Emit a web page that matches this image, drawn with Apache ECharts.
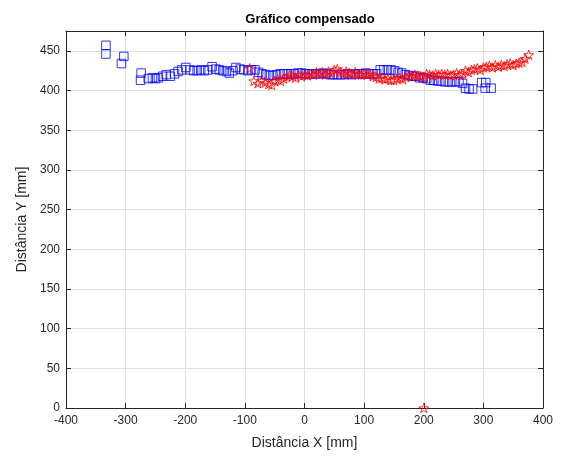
<!DOCTYPE html>
<html>
<head>
<meta charset="utf-8">
<script src="https://cdn.jsdelivr.net/npm/echarts@6/dist/echarts.min.js"></script>
<style>
  html, body { margin: 0; padding: 0; background: #fff; }
  #chart { width: 569px; height: 457px; }
</style>
</head>
<body>
<div id="chart"></div>
<script>
// pontos medidos (x, y) em mm
const bluePoints = [
  [-333, 457], [-333, 446], [-303, 443], [-307, 434], [-274, 422], [-275, 413],
  [-262, 415], [-255, 416], [-250, 415], [-245, 416], [-238, 418], [-232, 420],
  [-225, 418], [-218, 421], [-212, 424], [-206, 426], [-199, 429], [-192, 426],
  [-186, 425], [-180, 425], [-174, 426], [-168, 425], [-162, 426], [-155, 430],
  [-149, 427], [-143, 426], [-137, 425], [-131, 424], [-126, 422], [-120, 425],
  [-115, 429], [-108, 427], [-102, 426], [-95, 425], [-89, 426], [-83, 426],
  [-77, 423], [-71, 421], [-65, 420], [-59, 419], [-53, 419], [-47, 420],
  [-41, 421], [-35, 421], [-29, 421], [-23, 421], [-17, 421], [-11, 422],
  [-5, 422], [1, 421], [7, 421], [13, 421], [19, 421], [25, 421],
  [31, 422], [37, 421], [43, 420], [49, 420], [55, 420], [61, 420],
  [67, 420], [73, 421], [79, 420], [85, 421], [91, 421], [97, 421],
  [103, 422], [109, 421], [115, 421], [121, 421], [127, 426], [133, 426],
  [139, 426], [145, 426], [151, 425], [157, 423], [163, 422], [169, 420],
  [175, 419], [181, 418], [187, 418], [193, 416], [199, 416], [205, 415],
  [211, 413], [217, 413], [223, 412], [229, 412], [235, 411], [241, 411],
  [247, 411], [253, 411], [259, 411], [265, 409], [270, 403], [276, 402],
  [282, 402], [297, 410], [304, 410], [303, 403], [313, 403]
]

const redPoints = [
  [-92, 428], [-85, 412], [-78, 409], [-72, 412], [-66, 410], [-60, 408],
  [-55, 407], [-50, 412], [-45, 414], [-40, 412], [-35, 415], [-30, 417],
  [-25, 419], [-20, 418], [-15, 416], [-10, 420], [-5, 418], [0, 420],
  [5, 419], [10, 421], [15, 420], [20, 423], [25, 421], [30, 423],
  [35, 420], [40, 424], [45, 422], [50, 426], [55, 427], [60, 423],
  [65, 421], [70, 424], [75, 422], [80, 421], [85, 423], [90, 420],
  [95, 420], [100, 421], [105, 420], [110, 421], [115, 418], [120, 417],
  [125, 415], [130, 416], [135, 414], [140, 415], [145, 413], [150, 413],
  [155, 415], [160, 416], [165, 414], [170, 417], [175, 419], [180, 418],
  [185, 420], [190, 419], [195, 418], [200, 417], [205, 421], [210, 420],
  [215, 419], [220, 421], [225, 420], [230, 421], [235, 420], [240, 421],
  [245, 419], [250, 420], [255, 422], [260, 420], [265, 421], [270, 425],
  [275, 423], [280, 426], [285, 427], [290, 428], [295, 426], [300, 429],
  [305, 430], [310, 431], [315, 429], [320, 432], [325, 430], [330, 432],
  [335, 431], [340, 433], [345, 434], [350, 432], [355, 434], [360, 435],
  [365, 436], [370, 440], [376, 445], [200, 0]
]

const xTicks = [-400, 400, 100]  // min, max, intervalo
const yTicks = [0, 475, 50]

const star = 'path://M100,0 L122.45,69.1 L195.1,69.1 L136.3,111.8 L158.8,180.9 L100,138.2 L41.2,180.9 L63.7,111.8 L4.9,69.1 L77.55,69.1 Z'
const axisColor = '#262626'
const font = 'Liberation Sans, Arial, Helvetica, sans-serif'

const chart = echarts.init(document.getElementById('chart'))
chart.setOption({
  animation: false,
  backgroundColor: '#fff',
  textStyle: { fontFamily: font },
  title: {
    text: 'Gráfico compensado',
    left: 305,
    top: 8,
    textAlign: 'center',
    textStyle: { fontSize: 13, fontWeight: 'bold', color: '#000', fontFamily: font }
  },
  grid: { left: 66, right: 26, top: 31, bottom: 49 },
  xAxis: [
    {
      type: 'value',
      min: xTicks[0], max: xTicks[1], interval: xTicks[2],
      name: 'Distância X [mm]',
      nameLocation: 'middle',
      nameGap: 28,
      nameTextStyle: { fontSize: 14, color: axisColor },
      axisLine: { onZero: false, lineStyle: { color: axisColor } },
      axisTick: { inside: true, length: 5, lineStyle: { color: axisColor } },
      axisLabel: { fontSize: 12, color: axisColor, margin: 7 },
      splitLine: { show: true, lineStyle: { color: '#dfdfdf' } }
    },
    {
      type: 'value', position: 'top',
      min: xTicks[0], max: xTicks[1], interval: xTicks[2],
      axisLine: { onZero: false, lineStyle: { color: axisColor } },
      axisTick: { inside: true, length: 5, lineStyle: { color: axisColor } },
      axisLabel: { show: false },
      splitLine: { show: false }
    }
  ],
  yAxis: [
    {
      type: 'value',
      min: yTicks[0], max: yTicks[1], interval: yTicks[2],
      name: 'Distância Y [mm]',
      nameLocation: 'middle',
      nameGap: 36,
      nameTextStyle: { fontSize: 14, color: axisColor },
      axisLine: { show: true, onZero: false, lineStyle: { color: axisColor } },
      axisTick: { show: true, inside: true, length: 5, lineStyle: { color: axisColor } },
      axisLabel: {
        fontSize: 12, color: axisColor, margin: 6,
        formatter: v => (v % 50 === 0 ? String(v) : '')
      },
      splitLine: { show: true, lineStyle: { color: '#dfdfdf' } }
    },
    {
      type: 'value', position: 'right',
      min: yTicks[0], max: yTicks[1], interval: yTicks[2],
      axisLine: { show: true, onZero: false, lineStyle: { color: axisColor } },
      axisTick: { show: true, inside: true, length: 5, lineStyle: { color: axisColor } },
      axisLabel: { show: false },
      splitLine: { show: false }
    }
  ],
  series: [
    {
      type: 'scatter',
      data: bluePoints,
      symbol: 'rect',
      symbolSize: 8.5,
      itemStyle: { color: 'rgba(0,0,0,0)', borderColor: '#0000ff', borderWidth: 1 },
      clip: false
    },
    {
      type: 'scatter',
      data: redPoints,
      symbol: star,
      symbolKeepAspect: true,
      symbolSize: 10,
      itemStyle: { color: 'rgba(0,0,0,0)', borderColor: '#ff0000', borderWidth: 1 },
      clip: false
    }
  ]
})
</script>
</body>
</html>
